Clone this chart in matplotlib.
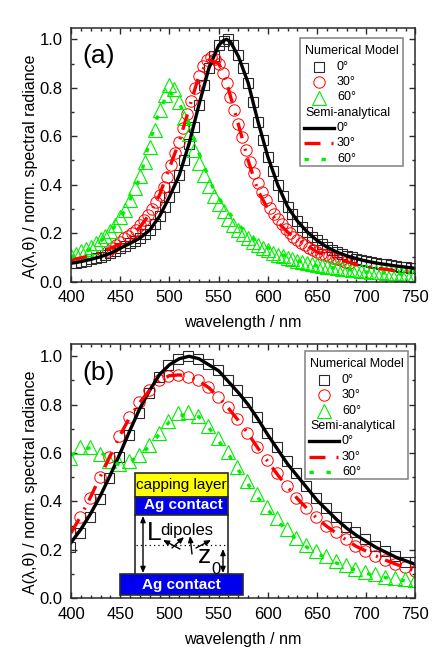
import numpy as np
import matplotlib
matplotlib.use("Agg")
import matplotlib.pyplot as plt
from matplotlib.patches import Rectangle
from matplotlib.lines import Line2D
from matplotlib.transforms import Affine2D

plt.rcParams['font.family'] = ['Liberation Sans', 'DejaVu Sans']
plt.rcParams['mathtext.default'] = 'regular'

GREEN = '#00ee00'
DARK = '#2a2a2a'

# panel (a), numerical model
a_sq_x = np.arange(400, 751, 5)
a_sq_y = [.076, .079, .083, .087, .092, .097, .103, .110, .117, .127, .138, .148, .158, .168, .180, .195,
          .213, .238, .270, .307, .350, .390, .440, .500, .570, .640, .730, .810, .880, .930, .975, .995,
          1.0, .975, .935, .880, .820, .740, .660, .585, .515, .455, .400, .352, .310, .278, .250, .226,
          .205, .186, .170, .155, .143, .132, .122, .114, .107, .100, .095, .090, .085, .080, .077, .074,
          .071, .068, .065, .062, .060, .058, .055]
a_ci_x = np.arange(438, 683, 4)
a_ci_y = [.125, .137, .150, .165, .180, .190, .200, .215, .235, .255, .275, .300, .330, .358, .392, .433,
          .480, .530, .578, .633, .690, .745, .800, .850, .890, .915, .925, .920, .900, .862, .820, .763,
          .708, .650, .595, .543, .492, .447, .406, .371, .337, .305, .280, .258, .237, .218, .200, .185,
          .172, .160, .150, .140, .130, .122, .115, .110, .105, .098, .093, .088, .083, .078]
a_tr_x = np.arange(400, 751, 5)
a_tr_y = [.105, .115, .125, .135, .145, .160, .175, .190, .210, .235, .265, .295, .335, .385, .435, .495,
          .555, .625, .710, .770, .810, .795, .740, .675, .610, .545, .490, .440, .395, .355, .320, .290,
          .260, .235, .215, .195, .180, .165, .150, .140, .130, .120, .112, .105, .098, .092, .087, .082,
          .077, .073, .069, .065, .062, .059, .056, .053, .051, .049, .047, .045, .043, .041, .040, .038,
          .037, .035, .034, .033, .032, .031, .030]

# panel (a), semi-analytical
a_line_x = [400, 410, 420, 430, 440, 450, 460, 470, 480, 490, 500, 510, 520, 530, 540, 550, 555, 558, 562,
            570, 580, 590, 600, 610, 620, 630, 640, 650, 660, 670, 680, 690, 700, 710, 720, 730, 740, 750]
a_black = [.076, .083, .092, .103, .117, .138, .158, .180, .213, .270, .350, .440, .570, .730, .880, .975,
           .995, 1.0, .99, .930, .820, .660, .515, .400, .310, .250, .205, .170, .143, .122, .107, .095,
           .085, .077, .071, .065, .060, .055]
a_red = [.090, .098, .108, .120, .138, .155, .185, .225, .280, .358, .470, .578, .715, .850, .915, .900,
         .860, .825, .765, .650, .500, .375, .300, .245, .205, .172, .150, .122, .110, .093, .083, .070,
         .063, .055, .051, .045, .043, .040]
a_green_x = [400, 418, 435, 449, 459, 466, 472, 476, 481, 487, 493, 499, 510, 517, 530, 537, 544, 553, 565,
             580, 598, 615, 631, 648, 665, 682, 699, 716, 733, 750]
a_green = [.100, .130, .183, .250, .330, .388, .454, .523, .590, .670, .730, .790, .735, .680, .530, .460,
           .390, .327, .260, .190, .145, .110, .085, .066, .058, .050, .040, .037, .032, .028]

# panel (b), numerical model
b_x = np.arange(399, 750, 10)
b_sq_y = [.210, .270, .335, .410, .496, .585, .675, .765, .850, .915, .965, .990, 1.0, .990, .970, .945,
          .900, .860, .810, .750, .685, .625, .567, .517, .465, .416, .375, .335, .296, .272, .244, .216,
          .197, .175, .151, .148]
b_ci_y = [.270, .335, .415, .500, .585, .670, .750, .810, .860, .900, .920, .923, .916, .900, .872, .833,
          .790, .740, .685, .627, .572, .517, .464, .416, .375, .335, .300, .273, .244, .216, .197, .176,
          .158, .142, .128, .114]
b_tr_y = [.580, .625, .624, .595, .569, .555, .569, .592, .634, .682, .734, .764, .771, .753, .712, .661,
          .603, .541, .486, .431, .379, .331, .285, .251, .220, .194, .175, .154, .138, .123, .109, .099,
          .088, .084, .079, .076]

# panel (b), semi-analytical
b_line_x = [400, 410, 420, 430, 440, 450, 460, 470, 480, 490, 500, 510, 520, 530, 540, 550, 560, 570, 580,
            590, 600, 610, 620, 630, 640, 650, 660, 670, 680, 690, 700, 710, 720, 730, 740, 750]
b_black = [.230, .285, .350, .425, .510, .600, .695, .785, .860, .925, .965, .990, 1.0, .990, .965, .940,
           .895, .850, .800, .740, .675, .615, .555, .505, .455, .405, .365, .325, .290, .260, .235, .210,
           .190, .170, .155, .140]
b_red = [.270, .340, .420, .505, .590, .675, .750, .810, .860, .900, .920, .923, .916, .898, .870, .830,
         .785, .735, .680, .620, .565, .510, .460, .412, .370, .330, .297, .268, .240, .214, .195, .175,
         .157, .141, .127, .113]
b_green = [.590, .615, .622, .605, .570, .550, .565, .590, .630, .680, .730, .755, .760, .750, .705, .650,
           .595, .530, .470, .415, .365, .320, .275, .240, .210, .185, .165, .145, .130, .115, .103, .093,
           .085, .078, .072, .068]

yticks = [0.0, 0.2, 0.4, 0.6, 0.8, 1.0]
xticks = [400, 450, 500, 550, 600, 650, 700, 750]
legend_rows = ['0°', '30°', '60°']

fig = plt.figure(figsize=(4.35, 6.58), dpi=100)
# pixel coordinates of the picture, y going down, for legend box and inset sketch
px = Affine2D().scale(1 / 435, -1 / 658).translate(0, 1) + fig.transFigure

line_styles = [
    dict(color='black', lw=2.4),
    dict(color='red', lw=2.4, ls=(0, (4.8, 3.3, 0.6, 2.4))),
    dict(color=GREEN, lw=2.4, ls=(0, (1.3, 3.8))),
]
marker_styles = [
    dict(marker='s', ms=7.0, mec=DARK, mew=0.8),
    dict(marker='o', ms=8.2, mec='red', mew=0.7),
    dict(marker='^', ms=9.4, mec=GREEN, mew=0.8),
]


def setup_axes(rect, ymax):
    ax = fig.add_axes(rect)
    ax.set_xlim(400, 750)
    ax.set_ylim(0, ymax)
    ax.set_xticks(xticks)
    ax.set_yticks(yticks)
    ax.set_xticks(np.arange(400, 751, 10), minor=True)
    ax.set_yticks(np.arange(0, 1.01, 0.1), minor=True)
    ax.tick_params(which='major', direction='in', length=4.4, width=1, top=True, right=True,
                   labelsize=12, color=DARK, pad=6)
    ax.tick_params(which='minor', direction='in', length=2.3, width=1, top=True, right=True, color=DARK)
    for s in ax.spines.values():
        s.set_linewidth(1.1)
        s.set_color(DARK)
    ax.set_xlabel("wavelength / nm", fontsize=11.6)
    ax.set_ylabel("A(λ,θ) / norm. spectral radiance", fontsize=11.5)
    ax.xaxis.set_label_coords(0.5, -0.131)
    ax.yaxis.set_label_coords(-0.097, 0.456)
    return ax


def draw_legend(ax, dx, dy):
    ax.add_patch(Rectangle((300 + dx, 38 + dy), 103, 128, fc='white', ec='#8a8a8a', lw=1.2,
                           transform=px, zorder=6, clip_on=False))
    ax.text(305.3 + dx, 51 + dy, "Numerical Model", fontsize=9, va='center', transform=px, zorder=7)
    ax.text(305.3 + dx, 113 + dy, "Semi-analytical", fontsize=9, va='center', transform=px, zorder=7)
    for i, name in enumerate(legend_rows):
        y1 = 66.7 + 15.4 * i + dy
        y2 = 128 + 15.3 * i + dy
        ax.add_line(Line2D([319.3 + dx], [y1], ls='none', mfc='none', transform=px, zorder=7, **marker_styles[i]))
        ax.add_line(Line2D([304 + dx, 334 + dx], [y2, y2], transform=px, zorder=7, **line_styles[i]))
        ax.text(337 + dx, y1, name, fontsize=9, va='center', transform=px, zorder=7)
        ax.text(337 + dx, y2, name, fontsize=9, va='center', transform=px, zorder=7)


ax = setup_axes([71 / 435, 1 - 281.7 / 658, 344.5 / 435, 253.7 / 658], 1.0466)
ax.plot(a_sq_x, a_sq_y, ls='none', mfc='none', **marker_styles[0])
ax.plot(a_ci_x, a_ci_y, ls='none', mfc='none', **marker_styles[1])
ax.plot(a_tr_x, a_tr_y, ls='none', mfc='none', **marker_styles[2])
ax.plot(a_line_x, a_black, **line_styles[0])
ax.plot(a_line_x, a_red, **line_styles[1])
ax.plot(a_green_x, a_green, **line_styles[2])
ax.text(99, 56, "(a)", fontsize=19, ha='center', va='center', transform=px)
draw_legend(ax, 0, 0)

ax = setup_axes([71 / 435, 1 - 598.3 / 658, 344.5 / 435, 254.3 / 658], 1.0508)
ax.plot(b_x, b_sq_y, ls='none', mfc='none', **marker_styles[0])
ax.plot(b_x, b_ci_y, ls='none', mfc='none', **marker_styles[1])
ax.plot(b_x, b_tr_y, ls='none', mfc='none', **marker_styles[2])
ax.plot(b_line_x, b_black, **line_styles[0])
ax.plot(b_line_x, b_red, **line_styles[1])
ax.plot(b_line_x, b_green, **line_styles[2])
ax.text(99, 373, "(b)", fontsize=19, ha='center', va='center', transform=px)
draw_legend(ax, 5, 313.2)

# device sketch inside panel (b)
for x, y, w, h, col in [(135, 473, 93, 23.5, '#ffff00'), (135, 496.5, 93, 18, '#0000ee'),
                        (135, 514.5, 93, 60, 'white'), (120, 574, 123, 20.5, '#0000ee')]:
    ax.add_patch(Rectangle((x, y), w, h, fc=col, ec=DARK, lw=1.2, transform=px, zorder=8, clip_on=False))
ax.text(181, 485, "capping layer", fontsize=11, ha='center', va='center', transform=px, zorder=9)
ax.text(183, 505.5, "Ag contact", fontsize=11, fontweight='bold', color='white', ha='center', va='center',
        transform=px, zorder=9)
ax.text(181, 584.5, "Ag contact", fontsize=11, fontweight='bold', color='white', ha='center', va='center',
        transform=px, zorder=9)
ax.text(187, 530, "dipoles", fontsize=12, ha='center', va='center', transform=px, zorder=9)
ax.text(154, 533, "L", fontsize=19, ha='center', va='center', transform=px, zorder=9)
ax.text(205, 556, "z", fontsize=19, ha='center', va='center', transform=px, zorder=9)
ax.text(216, 569, "0", fontsize=12, ha='center', va='center', transform=px, zorder=9)
ax.add_line(Line2D([136, 227], [545, 545], color='black', lw=0.9, ls=(0, (1, 2.5)), transform=px, zorder=9))
arrows = [((143, 516), (143, 573), '<|-|>'), ((223, 549), (223, 573), '<|-|>'),
          ((180, 549), (163, 540), '-|>'), ((172, 548), (184, 537), '-|>'),
          ((192, 554), (190, 536), '-|>'), ((196, 548), (211, 540), '-|>')]
for start, end, style in arrows:
    ax.annotate("", xy=end, xytext=start, xycoords=px, textcoords=px, zorder=9,
                arrowprops=dict(arrowstyle=style + ",head_length=0.35,head_width=0.15", lw=1, color='black',
                                shrinkA=0, shrinkB=0))

fig.savefig('out.png', dpi=100)
